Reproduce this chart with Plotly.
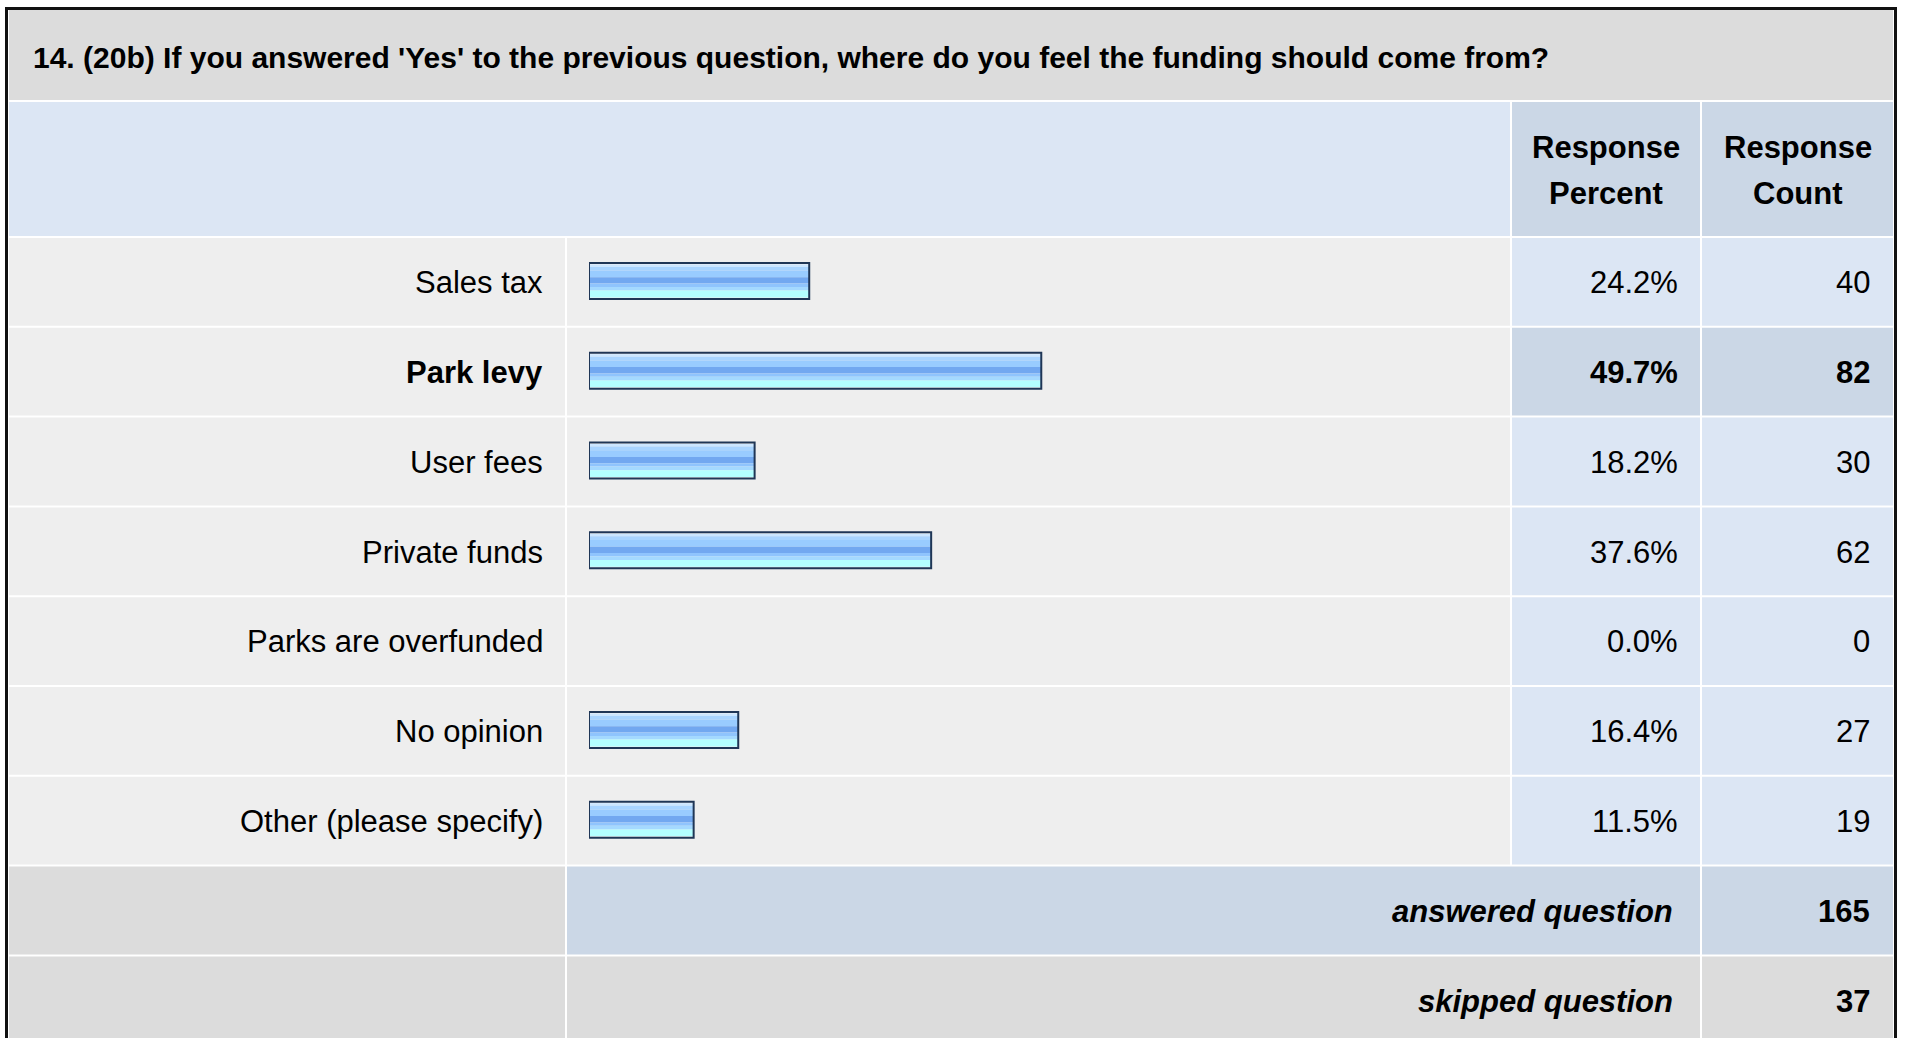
import plotly.graph_objects as go

# survey results
categories = ["Sales tax", "Park levy", "User fees", "Private funds",
              "Parks are overfunded", "No opinion", "Other (please specify)"]
percents = [24.2, 49.7, 18.2, 37.6, 0.0, 16.4, 11.5]
counts = [40, 82, 30, 62, 0, 27, 19]
answered = 165
skipped = 37
title = "14. (20b) If you answered 'Yes' to the previous question, where do you feel the funding should come from?"
header_cols = [["Response", "Percent"], ["Response", "Count"]]

W, H = 1907, 1038
PITCH = 89.8          # row height in px
TOP = 236             # top of first data row
FONT = "Liberation Sans, Arial, sans-serif"
FS = 31

GRAY = "#dcdcdc"
LIGHT = "#eeeeee"
BLUE = "#dce6f4"
BLUE2 = "#cbd7e6"


def px(x):
    return x / W


def py(y):
    return 1 - y / H


def rect(x0, x1, y0, y1, color):
    return dict(type="rect", xref="paper", yref="paper", layer="below",
                x0=px(x0), x1=px(x1), y0=py(y1), y1=py(y0),
                fillcolor=color, line_width=0)


rows = list(range(len(categories)))
top_idx = percents.index(max(percents))

# column edges (px)
A0, A1 = 9, 565
B0, B1 = 567, 1510
C0, C1 = 1512, 1700
D0, D1 = 1702, 1893

shapes = [
    rect(5, 1897, 7, 1045, "#111111"),
    rect(8, 1894, 10, 1045, "white"),
    rect(A0, D1, 10, 100, GRAY),
    rect(A0, B1, 102, TOP, BLUE),
    rect(C0, C1, 102, TOP, BLUE2),
    rect(D0, D1, 102, TOP, BLUE2),
]
for i in rows:
    y0 = TOP + i * PITCH + 2
    y1 = TOP + (i + 1) * PITCH
    c = BLUE2 if i == top_idx else BLUE
    shapes += [rect(A0, A1, y0, y1, LIGHT), rect(B0, B1, y0, y1, LIGHT),
               rect(C0, C1, y0, y1, c), rect(D0, D1, y0, y1, c)]
n = len(categories)
y0 = TOP + n * PITCH + 2
y1 = TOP + (n + 1) * PITCH
shapes += [rect(A0, A1, y0, y1, GRAY), rect(B0, C1, y0, y1, BLUE2), rect(D0, D1, y0, y1, BLUE2)]
y0 = TOP + (n + 1) * PITCH + 2
y1 = 1045
shapes += [rect(A0, A1, y0, y1, GRAY), rect(B0, C1, y0, y1, GRAY), rect(D0, D1, y0, y1, GRAY)]

fig = go.Figure()

bar_vals = [p if p > 0 else None for p in percents]
# horizontal stripes giving the glossy bar look (px from bar centre)
stripes = [(-16.5, -14, "#cbe6ff"), (-14, -10.3, "#a8d4ff"), (-10.3, -3.6, "#99ccff"),
           (-3.6, 2.7, "#72a8f0"), (2.7, 6, "#8fc4fd"), (6, 9.7, "#a4d9ff"),
           (9.7, 16.5, "#b3ffff")]
for a, b, col in stripes:
    fig.add_trace(go.Bar(x=bar_vals, y=rows, orientation="h", offset=a / PITCH,
                         width=(b - a) / PITCH, marker_color=col, marker_line_width=0,
                         hoverinfo="skip", showlegend=False))
fig.add_trace(go.Bar(x=bar_vals, y=rows, orientation="h", offset=-18 / PITCH,
                     width=36 / PITCH, marker_color="rgba(0,0,0,0)",
                     marker_line=dict(color="#1f3656", width=2),
                     customdata=counts, hovertemplate="%{x}%<extra></extra>",
                     showlegend=False))

ann = []
DY = 0.02  # small downward nudge for row text


def text(x, y, s, anchor, size=FS, yref="paper"):
    ann.append(dict(x=x, y=y, xref="paper", yref=yref, text=s, showarrow=False,
                    xanchor=anchor, yanchor="middle",
                    font=dict(family=FONT, size=size, color="black")))


text(px(31), py(58), "<b>" + title + "</b>", "left", size=30)
for (l1, l2), (c0, c1) in zip(header_cols, [(C0, C1), (D0, D1)]):
    text(px((c0 + c1) / 2), py(147), "<b>" + l1 + "</b>", "center")
    text(px((c0 + c1) / 2), py(193), "<b>" + l2 + "</b>", "center")

for i, (cat, p, c) in enumerate(zip(categories, percents, counts)):
    b = (lambda s: "<b>" + s + "</b>") if i == top_idx else (lambda s: s)
    text(px(545), i + DY, b(cat), "right", yref="y")
    text(px(1680), i + DY, b(f"{p:.1f}%"), "right", yref="y")
    text(px(1872), i + DY, b(str(c)), "right", yref="y")

text(px(1675), n + DY, "<b><i>answered question</i></b>", "right", yref="y")
text(px(1872), n + DY, "<b>%d</b>" % answered, "right", yref="y")
text(px(1675), n + 1 + DY, "<b><i>skipped question</i></b>", "right", yref="y")
text(px(1872), n + 1 + DY, "<b>%d</b>" % skipped, "right", yref="y")

fig.update_layout(
    width=W, height=H,
    margin=dict(l=0, r=0, t=0, b=0),
    paper_bgcolor="white",
    plot_bgcolor="rgba(0,0,0,0)",
    barmode="overlay",
    shapes=shapes,
    annotations=ann,
    xaxis=dict(domain=[px(589), px(1499)], range=[0, 100], visible=False, fixedrange=True),
    yaxis=dict(domain=[0, py(TOP)], range=[-0.5 + (H - TOP) / PITCH, -0.5],
               visible=False, fixedrange=True),
)

fig.write_html("out.html", config={"displayModeBar": False},
               post_script="document.body.style.margin='0';document.body.style.overflow='hidden';")
